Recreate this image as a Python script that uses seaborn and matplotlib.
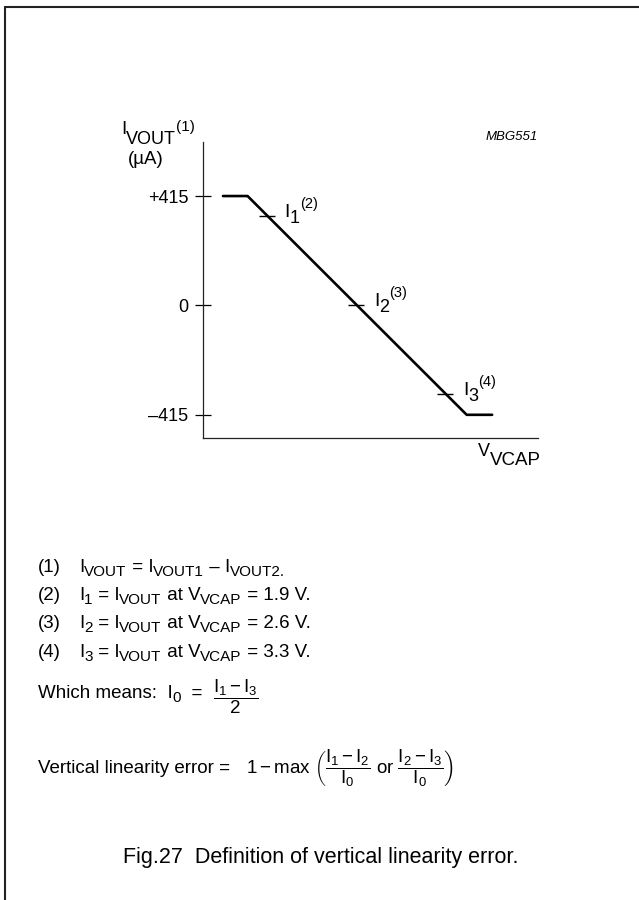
import re
import matplotlib
matplotlib.use('Agg')
import matplotlib.pyplot as plt
import seaborn as sns
from matplotlib.lines import Line2D
from matplotlib.font_manager import FontProperties

# curve: V_VCAP (V) against I_VOUT (uA)
vcap = [1.557, 1.75, 3.47, 3.67]
ivout = [415, 415, -415, -415]

# measuring points I1, I2, I3
point_v = [1.9, 2.6, 3.3]
point_i = [340, 0, -335]
point_labels = ['I_{1}^{(2)}', 'I_{2}^{(3)}', 'I_{3}^{(4)}']

ytick_vals = [415, 0, -415]
ytick_labels = ['+415', '0', '–415']

note_nums = ['(1)', '(2)', '(3)', '(4)']
note_texts = [
    'I_{VOUT} = I_{VOUT1} – I_{VOUT2.}',
    'I_{1} = I_{VOUT} at V_{VCAP} = 1.9 V.',
    'I_{2} = I_{VOUT} at V_{VCAP} = 2.6 V.',
    'I_{3} = I_{VOUT} at V_{VCAP} = 3.3 V.',
]

sns.set_style('white')
plt.rcParams['font.family'] = ['Liberation Sans', 'DejaVu Sans']
plt.rcParams['text.color'] = 'black'
plt.rcParams['mathtext.fontset'] = 'custom'
plt.rcParams['mathtext.rm'] = 'Liberation Sans'
plt.rcParams['mathtext.it'] = 'Liberation Sans'
plt.rcParams['mathtext.bf'] = 'Liberation Sans:bold'
plt.rcParams['mathtext.sf'] = 'Liberation Sans'

W, H = 639, 900
fig = plt.figure(figsize=(W / 100, H / 100), dpi=100)
renderer = fig.canvas.get_renderer()


def fx(px):
    return px / W


def fy(py):
    return 1 - py / H


def adv(s, size):
    # advance width in pixels, spaces included
    fp = FontProperties(family=['Liberation Sans'], size=size)
    w1 = renderer.get_text_width_height_descent('|' + s + '|', fp, ismath=False)[0]
    w0 = renderer.get_text_width_height_descent('||', fp, ismath=False)[0]
    return w1 - w0


def rich(x, y, s, size, sub=(1.0, 0), sup=(0.8, 0), ha='left'):
    # x, y: pixel position of the baseline (y measured from the top)
    # sub/sup: (font size, shift down in px)
    pieces = []
    for p in re.split(r'([_^]\{[^}]*\})', s):
        if not p:
            continue
        if p.startswith('_{'):
            pieces.append((p[2:-1], sub[0], sub[1]))
        elif p.startswith('^{'):
            pieces.append((p[2:-1], sup[0], sup[1]))
        else:
            pieces.append((p, size, 0))
    total = sum(adv(t, sz) for t, sz, _ in pieces)
    cx = x - total if ha == 'right' else x
    for t, sz, dy in pieces:
        fig.text(fx(cx), fy(y + dy), t, fontsize=sz, ha='left', va='baseline')
        cx += adv(t, sz)


ax = fig.add_axes([fx(203), fy(438), fx(538) - fx(203), fy(142) - fy(438)])

sns.lineplot(x=vcap, y=ivout, ax=ax, color='black', linewidth=1.9, sort=False)
sns.scatterplot(x=point_v, y=point_i, ax=ax, marker='_', s=140, color='black',
                linewidth=1.0, zorder=3)

ax.set_xlim(1.40, 4.03)
ax.set_ylim(-503, 620)
ax.set_xticks([])
ax.set_yticks(ytick_vals)
ax.set_yticklabels(ytick_labels, fontsize=13)
ax.tick_params(axis='y', left=True, direction='inout', length=11, width=0.9,
               pad=5.2, colors='black')
for side in ['top', 'right']:
    ax.spines[side].set_visible(False)
for side in ['left', 'bottom']:
    ax.spines[side].set_linewidth(0.9)
    ax.spines[side].set_color('#222222')
ax.set_xlabel('')
ax.set_ylabel('')

# labels next to the measuring points
for v, i, lab in zip(point_v, point_i, point_labels):
    xd, yd = ax.transData.transform((v, i))
    rich(xd + 18, H - yd + 1, lab, 14, sub=(13, 6), sup=(10.5, -9))

# axis titles
rich(121, 134, 'I_{VOUT}^{(1)}', 13.5, sub=(13, 10), sup=(11, -3))
fig.text(fx(146), fy(160), '(\u00b5A)', fontsize=13.5, ha='center', va='center')
rich(541, 456, 'V_{VCAP}', 13, sub=(13.5, 9), ha='right')
fig.text(fx(538), fy(137), 'MBG551', fontsize=9.5, ha='right', va='center',
         style='italic')

# notes
note_y = [572, 600, 628, 657]
for num, body, y in zip(note_nums, note_texts, note_y):
    rich(38, y, num, 13.5)
    rich(79, y, body, 13.5, sub=(11, 4))

rich(38, 698, 'Which means:  I_{0}  =', 13.5, sub=(11, 4))
fig.text(fx(213), fy(703), r'$\dfrac{I_1 - I_3}{2}$', fontsize=13.5,
         ha='left', va='baseline')

rich(38, 773, 'Vertical linearity error =', 13.5)
fig.text(fx(246), fy(773),
         r'$1 - \mathrm{max}\ \left(\dfrac{I_1 - I_2}{I_0}\ \mathrm{or}\ \dfrac{I_2 - I_3}{I_0}\right)$',
         fontsize=13.5, ha='left', va='baseline')

fig.text(fx(123), fy(863), 'Fig.27  Definition of vertical linearity error.',
         fontsize=15.5, va='baseline', ha='left')

# page frame (top and left edges)
fig.add_artist(Line2D([fx(4.5), 1], [fy(7), fy(7)], color='#222222', lw=1.5))
fig.add_artist(Line2D([fx(4.5), fx(4.5)], [0, fy(7)], color='#222222', lw=1.5))

fig.savefig('out.png', dpi=100)
